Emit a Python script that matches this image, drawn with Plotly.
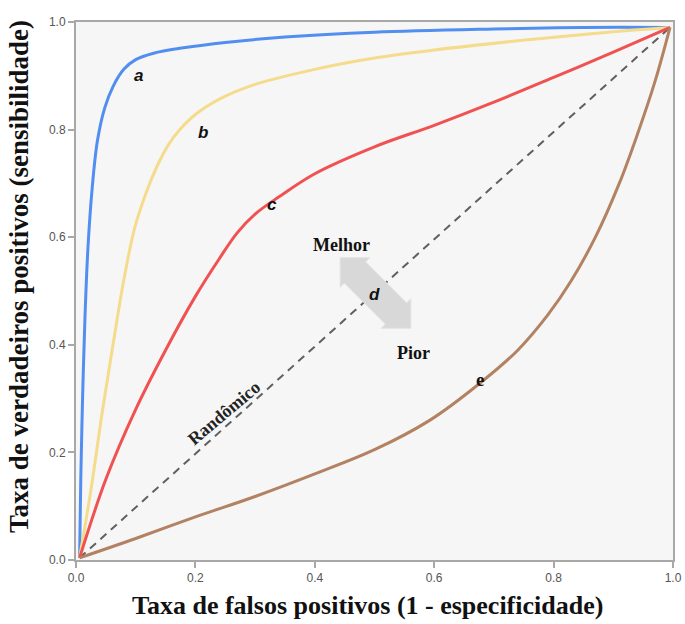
import math
import plotly.graph_objects as go

# ---------------- data ----------------
a_x = [0.006, 0.008, 0.011, 0.015, 0.020, 0.027, 0.036, 0.048, 0.062, 0.080, 0.100, 0.130, 0.180, 0.250, 0.350, 0.500, 0.700, 0.850, 0.995]
a_y = [0.004, 0.150, 0.300, 0.450, 0.580, 0.690, 0.780, 0.840, 0.880, 0.912, 0.930, 0.942, 0.952, 0.962, 0.972, 0.981, 0.987, 0.990, 0.990]

b_x = [0.006, 0.025, 0.044, 0.062, 0.080, 0.099, 0.120, 0.135, 0.155, 0.174, 0.200, 0.241, 0.300, 0.400, 0.500, 0.600, 0.740, 0.900, 0.995]
b_y = [0.004, 0.130, 0.275, 0.400, 0.520, 0.620, 0.690, 0.730, 0.772, 0.800, 0.828, 0.857, 0.884, 0.912, 0.933, 0.948, 0.965, 0.982, 0.990]

c_x = [0.006, 0.050, 0.100, 0.150, 0.200, 0.240, 0.270, 0.300, 0.340, 0.400, 0.500, 0.600, 0.700, 0.800, 0.900, 0.995]
c_y = [0.004, 0.150, 0.280, 0.390, 0.490, 0.560, 0.608, 0.643, 0.675, 0.718, 0.768, 0.808, 0.851, 0.897, 0.944, 0.990]

e_x = [0.006, 0.100, 0.200, 0.300, 0.400, 0.500, 0.593, 0.677, 0.740, 0.790, 0.830, 0.870, 0.910, 0.940, 0.970, 0.995]
e_y = [0.004, 0.040, 0.080, 0.118, 0.160, 0.205, 0.260, 0.329, 0.390, 0.455, 0.520, 0.600, 0.700, 0.790, 0.890, 0.990]

rand_x = [0.006, 0.995]
rand_y = [0.004, 0.990]

tick_vals = [0.0, 0.2, 0.4, 0.6, 0.8, 1.0]
tick_text = ["0.0", "0.2", "0.4", "0.6", "0.8", "1.0"]

curve_labels = ["a", "b", "c", "d", "e"]
curve_label_x = [0.104, 0.213, 0.328, 0.500, 0.677]
curve_label_y = [0.900, 0.794, 0.660, 0.493, 0.335]

x_title = "Taxa de falsos positivos (1 - especificidade)"
y_title = "Taxa de verdadeiros positivos (sensibilidade)"

# ---------------- layout geometry ----------------
W, H = 685, 624
P_L, P_R, P_T, P_B = 76, 673, 22, 560   # plot-area edges in pixels
ML, MT = P_L, P_T
MR, MB = W - P_R, H - P_B
PW = P_R - P_L
PH = P_B - P_T


def px_to_data(px, py):
    """pixel -> data / paper fraction"""
    return (px - P_L) / PW, (P_B - py) / PH


fig = go.Figure()

fig.add_trace(go.Scatter(x=rand_x, y=rand_y, mode="lines",
                         line=dict(color="#5f5f5f", width=2, dash="8px,6px"),
                         hoverinfo="skip", showlegend=False))

for xs, ys, col in [(a_x, a_y, "rgb(82,142,240)"),
                    (b_x, b_y, "rgb(244,220,140)"),
                    (c_x, c_y, "rgb(240,82,82)"),
                    (e_x, e_y, "rgb(178,130,98)")]:
    fig.add_trace(go.Scatter(x=xs, y=ys, mode="lines",
                             line=dict(color=col, width=3, shape="spline", smoothing=1.0),
                             hoverinfo="skip", showlegend=False))

# ---------------- double arrow (Melhor / Pior) ----------------
cx, cy = 375.5, 293.0
half_len, head_len, head_w, shaft_w = 50, 21, 21, 15
local = [(-half_len, 0), (-half_len + head_len, -head_w), (-half_len + head_len, -shaft_w),
         (half_len - head_len, -shaft_w), (half_len - head_len, -head_w), (half_len, 0),
         (half_len - head_len, head_w), (half_len - head_len, shaft_w),
         (-half_len + head_len, shaft_w), (-half_len + head_len, head_w)]
s = 1 / math.sqrt(2)
pts = []
for u, v in local:
    px = cx + u * s + v * s
    py = cy + u * s - v * s
    pts.append(px_to_data(px, py))
path = "M " + " L ".join(f"{x:.5f},{y:.5f}" for x, y in pts) + " Z"
fig.add_shape(type="path", path=path, xref="x", yref="y",
              fillcolor="#d8d8d8", line=dict(color="#e4e4e4", width=1), layer="above")

# ---------------- labels ----------------
for i, lab in enumerate(curve_labels):
    if lab == "e":
        font = dict(family="Liberation Serif", size=19, color="#111111")
        text = "<b>e</b>"
    else:
        font = dict(family="Liberation Sans", size=17, color="#111111")
        text = f"<b><i>{lab}</i></b>"
    fig.add_annotation(x=curve_label_x[i], y=curve_label_y[i], text=text, showarrow=False,
                       font=font, xref="x", yref="y")

mx, my = px_to_data(341, 245)
fig.add_annotation(x=mx, y=my, text="<b>Melhor</b>", showarrow=False,
                   font=dict(family="Liberation Serif", size=18, color="#111111"))
px_, py_ = px_to_data(413, 353)
fig.add_annotation(x=px_, y=py_, text="<b>Pior</b>", showarrow=False,
                   font=dict(family="Liberation Serif", size=18, color="#111111"))
rx, ry = px_to_data(224, 413)
fig.add_annotation(x=rx, y=ry, text="<b>Randômico</b>", showarrow=False, textangle=-40,
                   font=dict(family="Liberation Serif", size=18, color="#222222"))

# axis titles placed as paper annotations
tx, ty = px_to_data(367, 605)
fig.add_annotation(x=tx, y=ty, xref="paper", yref="paper", text=f"<b>{x_title}</b>",
                   xanchor="center", yanchor="middle",
                   showarrow=False, borderpad=0,
                   font=dict(family="Liberation Serif", size=26, color="#111111"))
tx, ty = px_to_data(19, 277)
fig.add_annotation(x=tx, y=ty, xref="paper", yref="paper", text=f"<b>{y_title}</b>",
                   xanchor="center", yanchor="middle",
                   textangle=-90, showarrow=False, borderpad=0,
                   font=dict(family="Liberation Serif", size=27, color="#111111"))

axis_common = dict(range=[0, 1], tickvals=tick_vals, ticktext=tick_text, showgrid=False,
                   zeroline=False, showline=True, linecolor="#a8a8a8", linewidth=2,
                   mirror=True, ticks="outside", ticklen=6, tickcolor="#a8a8a8", tickwidth=1.5,
                   automargin=False,
                   tickfont=dict(family="Liberation Sans", size=12, color="#555555"))

fig.update_layout(
    width=W, height=H,
    margin=dict(l=ML, r=MR, t=MT, b=MB),
    paper_bgcolor="white", plot_bgcolor="#f6f6f6",
    xaxis=dict(**axis_common),
    yaxis=dict(**axis_common),
)

# remove the default 8px page margin so the figure sits at the window's corner
fig.write_html("out.html", config={"displayModeBar": False},
               post_script="document.body.style.margin='0';document.body.style.overflow='hidden';")
